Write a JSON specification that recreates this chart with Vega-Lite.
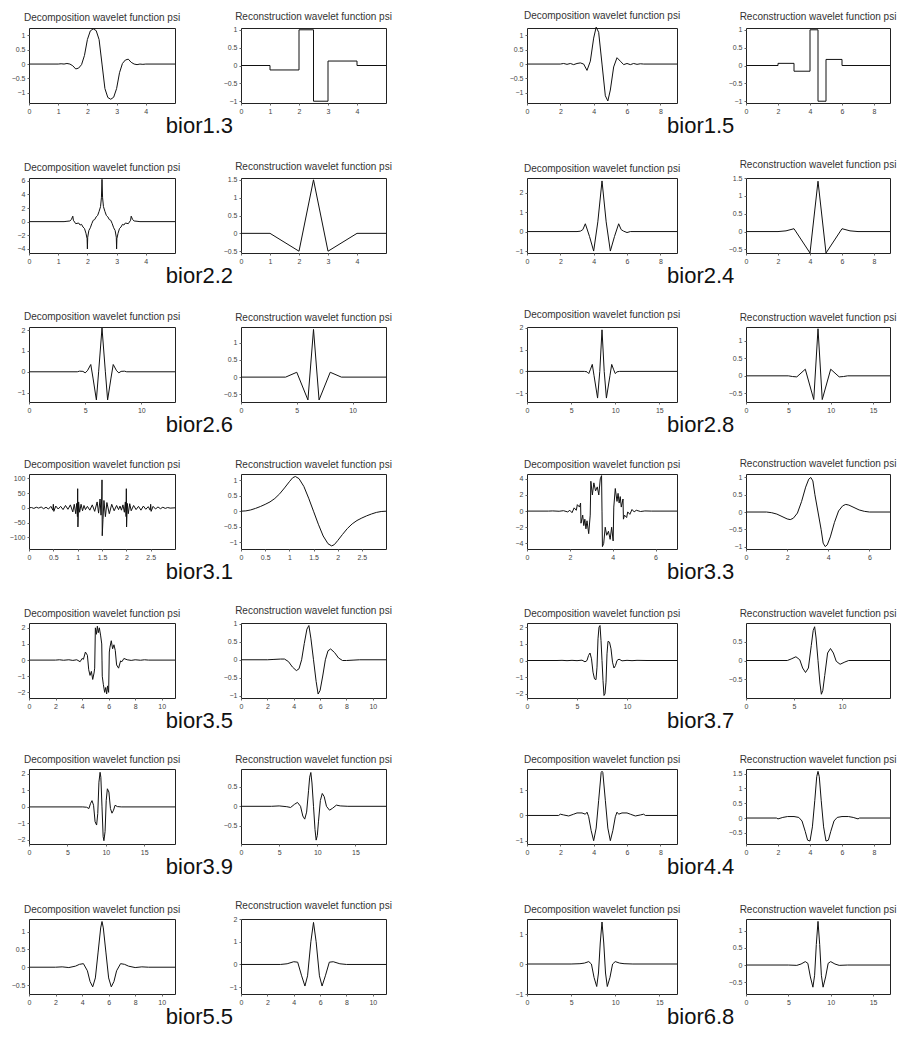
{
"$schema": "https://vega.github.io/schema/vega-lite/v6.json",
"background": "white",
"padding": {"left": 6, "top": 10, "right": 6, "bottom": 4},
"config": {
 "view": {"stroke": "#222", "strokeWidth": 1},
 "axis": {"domain": false, "grid": false, "ticks": true, "tickSize": 2, "tickColor": "#666", "labelFontSize": 7, "labelColor": "#444", "labelFont": "Liberation Sans", "labelPadding": 2, "labelOverlap": false, "labelFlush": false, "labelBound": false},
 "axisY": {"minExtent": 22, "maxExtent": 22},
 "axisX": {"minExtent": 12, "maxExtent": 12},
 "title": {"fontSize": 10, "font": "Liberation Sans", "fontWeight": "normal", "color": "#333", "offset": 4},
 "line": {"color": "#111", "strokeWidth": 1, "clip": true}
},
"datasets": {
 "b13d": [{"x":0,"y":0},{"x":1,"y":0},{"x":1.1,"y":0.01},{"x":1.2,"y":0},{"x":1.3,"y":0.02},{"x":1.4,"y":0},{"x":1.5,"y":-0.06},{"x":1.6,"y":-0.17},{"x":1.7,"y":-0.14},{"x":1.8,"y":-0.02},{"x":1.9,"y":0.3},{"x":2.0,"y":0.85},{"x":2.1,"y":1.15},{"x":2.2,"y":1.22},{"x":2.3,"y":1.16},{"x":2.4,"y":0.85},{"x":2.5,"y":0},{"x":2.6,"y":-0.85},{"x":2.7,"y":-1.16},{"x":2.8,"y":-1.22},{"x":2.9,"y":-1.15},{"x":3.0,"y":-0.85},{"x":3.1,"y":-0.3},{"x":3.2,"y":0.02},{"x":3.3,"y":0.14},{"x":3.4,"y":0.17},{"x":3.5,"y":0.06},{"x":3.6,"y":0},{"x":3.7,"y":-0.02},{"x":3.8,"y":0},{"x":3.9,"y":-0.01},{"x":4.0,"y":0},{"x":5,"y":0}],
 "b13r": [{"x":0,"y":0},{"x":1,"y":-0.125},{"x":2,"y":1},{"x":2.5,"y":-1},{"x":3,"y":0.125},{"x":4,"y":0},{"x":5,"y":0}],
 "b15d": [{"x":0,"y":0},{"x":2,"y":0},{"x":2.2,"y":0.02},{"x":2.4,"y":-0.01},{"x":2.6,"y":0.02},{"x":2.8,"y":-0.02},{"x":3.0,"y":0.02},{"x":3.2,"y":0.04},{"x":3.4,"y":0},{"x":3.6,"y":-0.22},{"x":3.8,"y":0.1},{"x":4.0,"y":0.9},{"x":4.15,"y":1.28},{"x":4.3,"y":1.1},{"x":4.5,"y":0},{"x":4.7,"y":-1.1},{"x":4.85,"y":-1.28},{"x":5.0,"y":-0.9},{"x":5.2,"y":-0.1},{"x":5.4,"y":0.22},{"x":5.6,"y":0.1},{"x":5.8,"y":-0.02},{"x":6.0,"y":0.02},{"x":6.2,"y":-0.02},{"x":6.4,"y":0.02},{"x":6.6,"y":-0.01},{"x":6.8,"y":0.01},{"x":7,"y":0},{"x":9,"y":0}],
 "b15r": [{"x":0,"y":0},{"x":2,"y":0.06},{"x":3,"y":-0.16},{"x":4,"y":1},{"x":4.5,"y":-1},{"x":5,"y":0.17},{"x":6,"y":0},{"x":9,"y":0}],
 "b22d": [{"x":0,"y":0},{"x":1.2,"y":0},{"x":1.3,"y":0.05},{"x":1.4,"y":0.1},{"x":1.45,"y":0.3},{"x":1.5,"y":0.8},{"x":1.52,"y":0.2},{"x":1.6,"y":-0.3},{"x":1.7,"y":-0.2},{"x":1.75,"y":-0.5},{"x":1.8,"y":-0.4},{"x":1.85,"y":-0.8},{"x":1.9,"y":-1.0},{"x":1.95,"y":-1.7},{"x":1.99,"y":-2.5},{"x":2.0,"y":-4.0},{"x":2.01,"y":-2.3},{"x":2.05,"y":-1.3},{"x":2.1,"y":-0.9},{"x":2.15,"y":-0.3},{"x":2.2,"y":0.2},{"x":2.25,"y":0.3},{"x":2.3,"y":0.7},{"x":2.35,"y":0.9},{"x":2.4,"y":1.5},{"x":2.45,"y":2.2},{"x":2.48,"y":3.5},{"x":2.5,"y":6.2},{"x":2.52,"y":3.5},{"x":2.55,"y":2.2},{"x":2.6,"y":1.5},{"x":2.65,"y":0.9},{"x":2.7,"y":0.7},{"x":2.75,"y":0.3},{"x":2.8,"y":0.2},{"x":2.85,"y":-0.3},{"x":2.9,"y":-0.9},{"x":2.95,"y":-1.3},{"x":2.99,"y":-2.3},{"x":3.0,"y":-4.0},{"x":3.01,"y":-2.5},{"x":3.05,"y":-1.7},{"x":3.1,"y":-1.0},{"x":3.15,"y":-0.8},{"x":3.2,"y":-0.4},{"x":3.25,"y":-0.5},{"x":3.3,"y":-0.2},{"x":3.4,"y":-0.3},{"x":3.48,"y":0.2},{"x":3.5,"y":0.8},{"x":3.55,"y":0.3},{"x":3.6,"y":0.1},{"x":3.7,"y":0.05},{"x":3.8,"y":0},{"x":5,"y":0}],
 "b22r": [{"x":0,"y":0},{"x":1,"y":0},{"x":2,"y":-0.5},{"x":2.5,"y":1.5},{"x":3,"y":-0.5},{"x":4,"y":0},{"x":5,"y":0}],
 "b24d": [{"x":0,"y":0},{"x":3,"y":0},{"x":3.2,"y":0.02},{"x":3.35,"y":0.1},{"x":3.5,"y":0.4},{"x":3.75,"y":-0.25},{"x":4.0,"y":-1.0},{"x":4.25,"y":0.5},{"x":4.5,"y":2.6},{"x":4.75,"y":0.5},{"x":5.0,"y":-1.0},{"x":5.25,"y":-0.25},{"x":5.5,"y":0.4},{"x":5.65,"y":0.1},{"x":5.8,"y":0.02},{"x":6.0,"y":-0.05},{"x":6.2,"y":0},{"x":9,"y":0}],
 "b24r": [{"x":0,"y":0},{"x":2,"y":0},{"x":2.5,"y":0.02},{"x":3,"y":0.08},{"x":4,"y":-0.6},{"x":4.5,"y":1.41},{"x":5,"y":-0.6},{"x":6,"y":0.08},{"x":6.5,"y":0.02},{"x":7,"y":0},{"x":9,"y":0}],
 "b26d": [{"x":0,"y":0},{"x":4.3,"y":0},{"x":4.5,"y":0.03},{"x":4.8,"y":0.02},{"x":5.0,"y":-0.05},{"x":5.2,"y":0.05},{"x":5.5,"y":0.35},{"x":5.7,"y":-0.3},{"x":6.0,"y":-1.35},{"x":6.2,"y":0},{"x":6.5,"y":2.1},{"x":6.8,"y":0},{"x":7.0,"y":-1.35},{"x":7.3,"y":-0.3},{"x":7.5,"y":0.35},{"x":7.8,"y":0.05},{"x":8.0,"y":-0.05},{"x":8.2,"y":0.02},{"x":8.5,"y":0.03},{"x":8.7,"y":0},{"x":13,"y":0}],
 "b26r": [{"x":0,"y":0},{"x":4,"y":0},{"x":5,"y":0.14},{"x":6,"y":-0.66},{"x":6.5,"y":1.38},{"x":7,"y":-0.66},{"x":8,"y":0.14},{"x":9,"y":0},{"x":13,"y":0}],
 "b28d": [{"x":0,"y":0},{"x":6.5,"y":0},{"x":6.8,"y":-0.02},{"x":7.0,"y":-0.1},{"x":7.2,"y":0.1},{"x":7.4,"y":0.32},{"x":7.6,"y":-0.2},{"x":8.0,"y":-1.22},{"x":8.25,"y":0},{"x":8.5,"y":1.9},{"x":8.75,"y":0},{"x":9.0,"y":-1.22},{"x":9.4,"y":-0.2},{"x":9.6,"y":0.32},{"x":9.8,"y":0.1},{"x":10.0,"y":-0.1},{"x":10.2,"y":-0.02},{"x":10.5,"y":0},{"x":17,"y":0}],
 "b28r": [{"x":0,"y":0},{"x":5,"y":0},{"x":5.5,"y":-0.02},{"x":6,"y":-0.03},{"x":7,"y":0.19},{"x":8,"y":-0.68},{"x":8.5,"y":1.35},{"x":9,"y":-0.68},{"x":10,"y":0.19},{"x":11,"y":-0.03},{"x":11.5,"y":-0.02},{"x":12,"y":0},{"x":17,"y":0}],
 "b31d": [{"x":0,"y":0},{"x":0.05,"y":1},{"x":0.1,"y":-2},{"x":0.15,"y":2},{"x":0.2,"y":-1},{"x":0.25,"y":3},{"x":0.3,"y":-3},{"x":0.35,"y":2},{"x":0.4,"y":-4},{"x":0.45,"y":5},{"x":0.49,"y":-8},{"x":0.5,"y":12},{"x":0.51,"y":-12},{"x":0.55,"y":6},{"x":0.6,"y":-4},{"x":0.65,"y":5},{"x":0.7,"y":-6},{"x":0.75,"y":8},{"x":0.8,"y":-5},{"x":0.85,"y":10},{"x":0.9,"y":-14},{"x":0.93,"y":12},{"x":0.96,"y":-20},{"x":0.98,"y":15},{"x":0.995,"y":-30},{"x":1.0,"y":65},{"x":1.005,"y":-65},{"x":1.02,"y":20},{"x":1.04,"y":-15},{"x":1.07,"y":12},{"x":1.1,"y":-10},{"x":1.13,"y":8},{"x":1.16,"y":-6},{"x":1.2,"y":5},{"x":1.25,"y":-8},{"x":1.3,"y":10},{"x":1.35,"y":-12},{"x":1.4,"y":20},{"x":1.43,"y":-18},{"x":1.46,"y":30},{"x":1.48,"y":-25},{"x":1.495,"y":40},{"x":1.5,"y":95},{"x":1.505,"y":-95},{"x":1.52,"y":-40},{"x":1.54,"y":25},{"x":1.57,"y":-30},{"x":1.6,"y":18},{"x":1.65,"y":-20},{"x":1.7,"y":12},{"x":1.75,"y":-10},{"x":1.8,"y":8},{"x":1.84,"y":-6},{"x":1.87,"y":6},{"x":1.9,"y":-8},{"x":1.93,"y":10},{"x":1.96,"y":-15},{"x":1.98,"y":20},{"x":1.995,"y":-30},{"x":2.0,"y":65},{"x":2.005,"y":-65},{"x":2.02,"y":15},{"x":2.04,"y":-20},{"x":2.07,"y":14},{"x":2.1,"y":-10},{"x":2.15,"y":8},{"x":2.2,"y":-6},{"x":2.25,"y":5},{"x":2.3,"y":-8},{"x":2.35,"y":6},{"x":2.4,"y":-5},{"x":2.45,"y":4},{"x":2.49,"y":-8},{"x":2.5,"y":12},{"x":2.51,"y":-12},{"x":2.55,"y":5},{"x":2.6,"y":-4},{"x":2.65,"y":3},{"x":2.7,"y":-3},{"x":2.75,"y":2},{"x":2.8,"y":-2},{"x":2.85,"y":1},{"x":2.9,"y":-1},{"x":3,"y":0}],
 "b31r": [{"x":0,"y":0},{"x":0.1,"y":0.01},{"x":0.2,"y":0.04},{"x":0.3,"y":0.09},{"x":0.4,"y":0.15},{"x":0.5,"y":0.22},{"x":0.6,"y":0.3},{"x":0.7,"y":0.41},{"x":0.8,"y":0.56},{"x":0.9,"y":0.75},{"x":1.0,"y":0.95},{"x":1.07,"y":1.08},{"x":1.125,"y":1.12},{"x":1.2,"y":1.05},{"x":1.3,"y":0.8},{"x":1.4,"y":0.42},{"x":1.5,"y":0},{"x":1.6,"y":-0.42},{"x":1.7,"y":-0.8},{"x":1.8,"y":-1.05},{"x":1.875,"y":-1.12},{"x":1.93,"y":-1.08},{"x":2.0,"y":-0.95},{"x":2.1,"y":-0.75},{"x":2.2,"y":-0.56},{"x":2.3,"y":-0.41},{"x":2.4,"y":-0.3},{"x":2.5,"y":-0.22},{"x":2.6,"y":-0.15},{"x":2.7,"y":-0.09},{"x":2.8,"y":-0.04},{"x":2.9,"y":-0.01},{"x":3,"y":0}],
 "b33d": [{"x":0,"y":0},{"x":1,"y":0},{"x":1.2,"y":0.02},{"x":1.5,"y":-0.02},{"x":1.7,"y":0.05},{"x":1.9,"y":-0.1},{"x":2.0,"y":0.1},{"x":2.1,"y":-0.2},{"x":2.2,"y":0.4},{"x":2.3,"y":0.1},{"x":2.35,"y":0.8},{"x":2.45,"y":0.5},{"x":2.5,"y":1.0},{"x":2.52,"y":-1.5},{"x":2.6,"y":-0.5},{"x":2.65,"y":-1.8},{"x":2.7,"y":-1.0},{"x":2.75,"y":-2.2},{"x":2.8,"y":-1.2},{"x":2.88,"y":-2.8},{"x":2.95,"y":-0.5},{"x":2.98,"y":3.7},{"x":3.05,"y":2.0},{"x":3.12,"y":3.5},{"x":3.2,"y":2.5},{"x":3.28,"y":3.0},{"x":3.35,"y":2.0},{"x":3.42,"y":4.0},{"x":3.48,"y":4.4},{"x":3.5,"y":0},{"x":3.52,"y":-4.4},{"x":3.58,"y":-4.0},{"x":3.65,"y":-2.0},{"x":3.72,"y":-3.0},{"x":3.8,"y":-2.5},{"x":3.88,"y":-3.5},{"x":3.95,"y":-2.0},{"x":4.02,"y":-3.7},{"x":4.05,"y":0.5},{"x":4.12,"y":2.8},{"x":4.2,"y":1.2},{"x":4.25,"y":2.2},{"x":4.3,"y":1.0},{"x":4.35,"y":1.8},{"x":4.4,"y":0.5},{"x":4.48,"y":1.5},{"x":4.5,"y":-1.0},{"x":4.55,"y":-0.5},{"x":4.65,"y":-0.8},{"x":4.7,"y":-0.1},{"x":4.8,"y":-0.4},{"x":4.9,"y":0.2},{"x":5.0,"y":-0.1},{"x":5.1,"y":0.1},{"x":5.3,"y":-0.05},{"x":5.5,"y":0.02},{"x":5.8,"y":0},{"x":7,"y":0}],
 "b33r": [{"x":0,"y":0},{"x":1,"y":0},{"x":1.25,"y":-0.02},{"x":1.5,"y":-0.06},{"x":1.75,"y":-0.13},{"x":2.0,"y":-0.2},{"x":2.15,"y":-0.22},{"x":2.3,"y":-0.18},{"x":2.5,"y":-0.03},{"x":2.7,"y":0.3},{"x":2.9,"y":0.72},{"x":3.05,"y":0.95},{"x":3.15,"y":1.0},{"x":3.25,"y":0.9},{"x":3.35,"y":0.5},{"x":3.5,"y":0},{"x":3.65,"y":-0.5},{"x":3.75,"y":-0.9},{"x":3.85,"y":-1.0},{"x":3.95,"y":-0.95},{"x":4.1,"y":-0.72},{"x":4.3,"y":-0.3},{"x":4.5,"y":0.03},{"x":4.7,"y":0.18},{"x":4.85,"y":0.22},{"x":5.0,"y":0.2},{"x":5.25,"y":0.13},{"x":5.5,"y":0.06},{"x":5.75,"y":0.02},{"x":6,"y":0},{"x":7,"y":0}],
 "b35d": [{"x":0,"y":0},{"x":2,"y":0},{"x":2.3,"y":0.02},{"x":2.6,"y":-0.01},{"x":3,"y":0.02},{"x":3.3,"y":-0.02},{"x":3.6,"y":0.02},{"x":3.85,"y":-0.1},{"x":4.0,"y":0.1},{"x":4.1,"y":0.05},{"x":4.25,"y":0.5},{"x":4.4,"y":0.3},{"x":4.5,"y":-0.6},{"x":4.6,"y":-0.95},{"x":4.7,"y":-0.7},{"x":4.8,"y":-1.2},{"x":4.9,"y":-0.8},{"x":4.95,"y":-0.5},{"x":5.0,"y":2.0},{"x":5.08,"y":1.6},{"x":5.15,"y":2.1},{"x":5.22,"y":1.7},{"x":5.3,"y":2.0},{"x":5.4,"y":1.5},{"x":5.48,"y":1.0},{"x":5.5,"y":0},{"x":5.52,"y":-1.0},{"x":5.6,"y":-1.5},{"x":5.7,"y":-2.0},{"x":5.78,"y":-1.7},{"x":5.85,"y":-2.1},{"x":5.92,"y":-1.6},{"x":6.0,"y":-2.0},{"x":6.05,"y":0.5},{"x":6.1,"y":0.8},{"x":6.2,"y":1.2},{"x":6.3,"y":0.7},{"x":6.4,"y":0.95},{"x":6.5,"y":0.6},{"x":6.6,"y":-0.3},{"x":6.75,"y":-0.5},{"x":6.9,"y":-0.05},{"x":7.0,"y":-0.1},{"x":7.15,"y":0.1},{"x":7.4,"y":0.02},{"x":7.7,"y":-0.02},{"x":8,"y":0.02},{"x":8.4,"y":-0.01},{"x":8.7,"y":0.02},{"x":9,"y":0},{"x":11,"y":0}],
 "b35r": [{"x":0,"y":0},{"x":2,"y":0},{"x":2.5,"y":0.01},{"x":3,"y":0.02},{"x":3.3,"y":0.02},{"x":3.6,"y":-0.05},{"x":3.9,"y":-0.2},{"x":4.2,"y":-0.3},{"x":4.4,"y":-0.25},{"x":4.6,"y":0},{"x":4.8,"y":0.45},{"x":5.0,"y":0.85},{"x":5.15,"y":0.95},{"x":5.3,"y":0.6},{"x":5.5,"y":0},{"x":5.7,"y":-0.6},{"x":5.85,"y":-0.95},{"x":6.0,"y":-0.85},{"x":6.2,"y":-0.45},{"x":6.4,"y":0},{"x":6.6,"y":0.25},{"x":6.8,"y":0.3},{"x":7.1,"y":0.2},{"x":7.4,"y":0.05},{"x":7.7,"y":-0.02},{"x":8,"y":-0.02},{"x":8.5,"y":-0.01},{"x":9,"y":0},{"x":11,"y":0}],
 "b37d": [{"x":0,"y":0},{"x":3,"y":0},{"x":3.5,"y":0.01},{"x":4,"y":-0.01},{"x":4.5,"y":0.01},{"x":5,"y":-0.01},{"x":5.5,"y":0.02},{"x":5.8,"y":-0.08},{"x":6.0,"y":0},{"x":6.15,"y":0.3},{"x":6.3,"y":0.45},{"x":6.45,"y":0.1},{"x":6.6,"y":-0.7},{"x":6.75,"y":-1.1},{"x":6.9,"y":-1.15},{"x":7.0,"y":-0.4},{"x":7.1,"y":1.3},{"x":7.2,"y":2.0},{"x":7.3,"y":2.1},{"x":7.4,"y":1.2},{"x":7.5,"y":0},{"x":7.6,"y":-1.2},{"x":7.7,"y":-2.1},{"x":7.8,"y":-2.0},{"x":7.9,"y":-1.3},{"x":8.0,"y":0.4},{"x":8.1,"y":1.15},{"x":8.25,"y":1.1},{"x":8.4,"y":0.7},{"x":8.55,"y":-0.1},{"x":8.7,"y":-0.45},{"x":8.85,"y":-0.3},{"x":9.0,"y":0},{"x":9.2,"y":0.08},{"x":9.5,"y":-0.02},{"x":10,"y":0.01},{"x":10.5,"y":-0.01},{"x":11,"y":0.01},{"x":12,"y":0},{"x":15,"y":0}],
 "b37r": [{"x":0,"y":0},{"x":4.3,"y":0},{"x":4.7,"y":0.04},{"x":5.2,"y":0.1},{"x":5.6,"y":0.02},{"x":5.9,"y":-0.2},{"x":6.2,"y":-0.32},{"x":6.5,"y":-0.2},{"x":6.8,"y":0.4},{"x":7.0,"y":0.8},{"x":7.15,"y":0.9},{"x":7.3,"y":0.6},{"x":7.5,"y":0},{"x":7.7,"y":-0.6},{"x":7.85,"y":-0.9},{"x":8.0,"y":-0.8},{"x":8.2,"y":-0.4},{"x":8.5,"y":0.2},{"x":8.8,"y":0.32},{"x":9.1,"y":0.2},{"x":9.4,"y":-0.02},{"x":9.8,"y":-0.1},{"x":10.3,"y":-0.04},{"x":10.7,"y":0},{"x":15,"y":0}],
 "b39d": [{"x":0,"y":0},{"x":7,"y":0},{"x":7.5,"y":-0.02},{"x":7.8,"y":-0.1},{"x":8.0,"y":0.2},{"x":8.2,"y":0.38},{"x":8.4,"y":0.1},{"x":8.6,"y":-0.9},{"x":8.8,"y":-1.1},{"x":8.95,"y":-0.4},{"x":9.1,"y":1.5},{"x":9.25,"y":2.1},{"x":9.35,"y":1.8},{"x":9.5,"y":0},{"x":9.65,"y":-1.8},{"x":9.75,"y":-2.05},{"x":9.9,"y":-1.5},{"x":10.05,"y":0.4},{"x":10.2,"y":1.1},{"x":10.4,"y":0.9},{"x":10.6,"y":-0.1},{"x":10.8,"y":-0.38},{"x":11.0,"y":-0.2},{"x":11.2,"y":0.1},{"x":11.5,"y":0.02},{"x":12,"y":0},{"x":19,"y":0}],
 "b39r": [{"x":0,"y":0},{"x":4,"y":0},{"x":5,"y":0.01},{"x":6,"y":-0.01},{"x":6.5,"y":-0.03},{"x":7.0,"y":0.05},{"x":7.4,"y":0.1},{"x":7.8,"y":0},{"x":8.1,"y":-0.25},{"x":8.35,"y":-0.33},{"x":8.6,"y":-0.15},{"x":8.85,"y":0.4},{"x":9.0,"y":0.75},{"x":9.15,"y":0.87},{"x":9.3,"y":0.6},{"x":9.5,"y":0},{"x":9.7,"y":-0.6},{"x":9.85,"y":-0.87},{"x":10.0,"y":-0.75},{"x":10.15,"y":-0.4},{"x":10.4,"y":0.15},{"x":10.65,"y":0.33},{"x":10.9,"y":0.25},{"x":11.2,"y":0},{"x":11.6,"y":-0.1},{"x":12.0,"y":-0.05},{"x":12.5,"y":0.03},{"x":13,"y":0.01},{"x":14,"y":0},{"x":19,"y":0}],
 "b44d": [{"x":0,"y":0},{"x":1.9,"y":0},{"x":2.0,"y":0.05},{"x":2.2,"y":0.02},{"x":2.5,"y":-0.02},{"x":2.8,"y":0.05},{"x":3.0,"y":0.1},{"x":3.3,"y":0.1},{"x":3.5,"y":0.05},{"x":3.6,"y":0.13},{"x":3.7,"y":-0.05},{"x":3.85,"y":-0.6},{"x":4.0,"y":-1.0},{"x":4.15,"y":-0.5},{"x":4.3,"y":0.6},{"x":4.45,"y":1.7},{"x":4.5,"y":1.75},{"x":4.55,"y":1.7},{"x":4.7,"y":0.6},{"x":4.85,"y":-0.5},{"x":5.0,"y":-1.0},{"x":5.15,"y":-0.6},{"x":5.3,"y":-0.05},{"x":5.4,"y":0.13},{"x":5.5,"y":0.05},{"x":5.7,"y":0.1},{"x":6.0,"y":0.1},{"x":6.2,"y":0.05},{"x":6.5,"y":-0.02},{"x":6.8,"y":0.02},{"x":7.0,"y":0.05},{"x":7.1,"y":0},{"x":9,"y":0}],
 "b44r": [{"x":0,"y":0},{"x":1.9,"y":0},{"x":2.0,"y":-0.03},{"x":2.3,"y":0.02},{"x":2.6,"y":0.05},{"x":3.0,"y":0.05},{"x":3.3,"y":0.02},{"x":3.5,"y":-0.1},{"x":3.7,"y":-0.45},{"x":3.85,"y":-0.75},{"x":4.0,"y":-0.78},{"x":4.15,"y":-0.3},{"x":4.3,"y":0.6},{"x":4.42,"y":1.4},{"x":4.5,"y":1.58},{"x":4.58,"y":1.4},{"x":4.7,"y":0.6},{"x":4.85,"y":-0.3},{"x":5.0,"y":-0.78},{"x":5.15,"y":-0.75},{"x":5.3,"y":-0.45},{"x":5.5,"y":-0.1},{"x":5.7,"y":0.02},{"x":6.0,"y":0.05},{"x":6.4,"y":0.05},{"x":6.7,"y":0.02},{"x":7.0,"y":-0.03},{"x":7.1,"y":0},{"x":9,"y":0}],
 "b55d": [{"x":0,"y":0},{"x":2,"y":0},{"x":2.5,"y":0.01},{"x":3,"y":-0.01},{"x":3.5,"y":0.03},{"x":3.8,"y":0.08},{"x":4.1,"y":0.1},{"x":4.4,"y":-0.1},{"x":4.6,"y":-0.4},{"x":4.8,"y":-0.55},{"x":5.0,"y":-0.3},{"x":5.2,"y":0.4},{"x":5.4,"y":1.1},{"x":5.5,"y":1.28},{"x":5.6,"y":1.1},{"x":5.8,"y":0.4},{"x":6.0,"y":-0.3},{"x":6.2,"y":-0.55},{"x":6.4,"y":-0.4},{"x":6.6,"y":-0.1},{"x":6.9,"y":0.1},{"x":7.2,"y":0.08},{"x":7.5,"y":0.03},{"x":8,"y":-0.01},{"x":8.5,"y":0.01},{"x":9,"y":0},{"x":11,"y":0}],
 "b55r": [{"x":0,"y":0},{"x":3,"y":0},{"x":3.5,"y":0.03},{"x":4.0,"y":0.12},{"x":4.3,"y":0.1},{"x":4.6,"y":-0.5},{"x":4.85,"y":-0.95},{"x":5.05,"y":-0.5},{"x":5.3,"y":1.0},{"x":5.5,"y":1.85},{"x":5.7,"y":1.0},{"x":5.95,"y":-0.5},{"x":6.15,"y":-0.95},{"x":6.4,"y":-0.5},{"x":6.7,"y":0.1},{"x":7.0,"y":0.12},{"x":7.5,"y":0.03},{"x":8,"y":0},{"x":11,"y":0}],
 "b68d": [{"x":0,"y":0},{"x":5,"y":0},{"x":6,"y":0.01},{"x":6.5,"y":0.03},{"x":7.0,"y":0.08},{"x":7.3,"y":0},{"x":7.6,"y":-0.45},{"x":7.9,"y":-0.75},{"x":8.1,"y":-0.3},{"x":8.3,"y":0.7},{"x":8.5,"y":1.4},{"x":8.7,"y":0.7},{"x":8.9,"y":-0.3},{"x":9.1,"y":-0.75},{"x":9.4,"y":-0.45},{"x":9.7,"y":0},{"x":10.0,"y":0.08},{"x":10.5,"y":0.03},{"x":11,"y":0.01},{"x":12,"y":0},{"x":17,"y":0}],
 "b68r": [{"x":0,"y":0},{"x":5,"y":0},{"x":6,"y":-0.01},{"x":6.5,"y":0.03},{"x":7,"y":0.1},{"x":7.3,"y":0.05},{"x":7.6,"y":-0.35},{"x":7.9,"y":-0.65},{"x":8.1,"y":-0.3},{"x":8.3,"y":0.6},{"x":8.5,"y":1.28},{"x":8.7,"y":0.6},{"x":8.9,"y":-0.3},{"x":9.1,"y":-0.65},{"x":9.4,"y":-0.35},{"x":9.7,"y":0.05},{"x":10,"y":0.1},{"x":10.5,"y":0.03},{"x":11,"y":-0.01},{"x":12,"y":0},{"x":17,"y":0}]
},
"spacing": 22,
"vconcat": [
 {"spacing": 111, "hconcat": [
  {"title": {"text": "bior1.3", "orient": "bottom", "anchor": "middle", "fontSize": 22, "color": "#111", "offset": 0}, "spacing": 37, "hconcat": [
   {"title": "Decomposition wavelet function psi", "width": 146, "height": 75, "data": {"name": "b13d"}, "mark": "line", "encoding": {"x": {"field": "x", "type": "quantitative", "title": null, "scale": {"domain": [0,5], "nice": false, "zero": false}, "axis": {"values": [0,1,2,3,4], "format": "~f"}}, "y": {"field": "y", "type": "quantitative", "title": null, "scale": {"domain": [-1.35,1.25], "nice": false, "zero": false}, "axis": {"values": [-1,-0.5,0,0.5,1], "format": "~f"}}}},
   {"title": "Reconstruction wavelet function psi", "width": 145, "height": 75, "data": {"name": "b13r"}, "mark": {"type": "line", "interpolate": "step-after"}, "encoding": {"x": {"field": "x", "type": "quantitative", "title": null, "scale": {"domain": [0,5], "nice": false, "zero": false}, "axis": {"values": [0,1,2,3,4], "format": "~f"}}, "y": {"field": "y", "type": "quantitative", "title": null, "scale": {"domain": [-1.05,1.05], "nice": false, "zero": false}, "axis": {"values": [-1,-0.5,0,0.5,1], "format": "~f"}}}}
  ]},
  {"title": {"text": "bior1.5", "orient": "bottom", "anchor": "middle", "fontSize": 22, "color": "#111", "offset": 0}, "spacing": 42, "hconcat": [
   {"title": "Decomposition wavelet function psi", "width": 150, "height": 75, "data": {"name": "b15d"}, "mark": "line", "encoding": {"x": {"field": "x", "type": "quantitative", "title": null, "scale": {"domain": [0,9], "nice": false, "zero": false}, "axis": {"values": [0,2,4,6,8], "format": "~f"}}, "y": {"field": "y", "type": "quantitative", "title": null, "scale": {"domain": [-1.35,1.25], "nice": false, "zero": false}, "axis": {"values": [-1,-0.5,0,0.5,1], "format": "~f"}}}},
   {"title": "Reconstruction wavelet function psi", "width": 144, "height": 75, "data": {"name": "b15r"}, "mark": {"type": "line", "interpolate": "step-after"}, "encoding": {"x": {"field": "x", "type": "quantitative", "title": null, "scale": {"domain": [0,9], "nice": false, "zero": false}, "axis": {"values": [0,2,4,6,8], "format": "~f"}}, "y": {"field": "y", "type": "quantitative", "title": null, "scale": {"domain": [-1.05,1.05], "nice": false, "zero": false}, "axis": {"values": [-1,-0.5,0,0.5,1], "format": "~f"}}}}
  ]}
 ]},
 {"spacing": 111, "hconcat": [
  {"title": {"text": "bior2.2", "orient": "bottom", "anchor": "middle", "fontSize": 22, "color": "#111", "offset": 0}, "spacing": 37, "hconcat": [
   {"title": "Decomposition wavelet function psi", "width": 146, "height": 75, "data": {"name": "b22d"}, "mark": "line", "encoding": {"x": {"field": "x", "type": "quantitative", "title": null, "scale": {"domain": [0,5], "nice": false, "zero": false}, "axis": {"values": [0,1,2,3,4], "format": "~f"}}, "y": {"field": "y", "type": "quantitative", "title": null, "scale": {"domain": [-4.6,6.4], "nice": false, "zero": false}, "axis": {"values": [-4,-2,0,2,4,6], "format": "~f"}}}},
   {"title": "Reconstruction wavelet function psi", "width": 145, "height": 75, "data": {"name": "b22r"}, "mark": "line", "encoding": {"x": {"field": "x", "type": "quantitative", "title": null, "scale": {"domain": [0,5], "nice": false, "zero": false}, "axis": {"values": [0,1,2,3,4], "format": "~f"}}, "y": {"field": "y", "type": "quantitative", "title": null, "scale": {"domain": [-0.55,1.55], "nice": false, "zero": false}, "axis": {"values": [-0.5,0,0.5,1,1.5], "format": "~f"}}}}
  ]},
  {"title": {"text": "bior2.4", "orient": "bottom", "anchor": "middle", "fontSize": 22, "color": "#111", "offset": 0}, "spacing": 42, "hconcat": [
   {"title": "Decomposition wavelet function psi", "width": 150, "height": 75, "data": {"name": "b24d"}, "mark": "line", "encoding": {"x": {"field": "x", "type": "quantitative", "title": null, "scale": {"domain": [0,9], "nice": false, "zero": false}, "axis": {"values": [0,2,4,6,8], "format": "~f"}}, "y": {"field": "y", "type": "quantitative", "title": null, "scale": {"domain": [-1.1,2.75], "nice": false, "zero": false}, "axis": {"values": [-1,0,1,2], "format": "~f"}}}},
   {"title": "Reconstruction wavelet function psi", "width": 144, "height": 75, "data": {"name": "b24r"}, "mark": "line", "encoding": {"x": {"field": "x", "type": "quantitative", "title": null, "scale": {"domain": [0,9], "nice": false, "zero": false}, "axis": {"values": [0,2,4,6,8], "format": "~f"}}, "y": {"field": "y", "type": "quantitative", "title": null, "scale": {"domain": [-0.6,1.5], "nice": false, "zero": false}, "axis": {"values": [-0.5,0,0.5,1,1.5], "format": "~f"}}}}
  ]}
 ]},
 {"spacing": 111, "hconcat": [
  {"title": {"text": "bior2.6", "orient": "bottom", "anchor": "middle", "fontSize": 22, "color": "#111", "offset": 0}, "spacing": 37, "hconcat": [
   {"title": "Decomposition wavelet function psi", "width": 146, "height": 75, "data": {"name": "b26d"}, "mark": "line", "encoding": {"x": {"field": "x", "type": "quantitative", "title": null, "scale": {"domain": [0,13], "nice": false, "zero": false}, "axis": {"values": [0,5,10], "format": "~f"}}, "y": {"field": "y", "type": "quantitative", "title": null, "scale": {"domain": [-1.45,2.15], "nice": false, "zero": false}, "axis": {"values": [-1,0,1,2], "format": "~f"}}}},
   {"title": "Reconstruction wavelet function psi", "width": 145, "height": 75, "data": {"name": "b26r"}, "mark": "line", "encoding": {"x": {"field": "x", "type": "quantitative", "title": null, "scale": {"domain": [0,13], "nice": false, "zero": false}, "axis": {"values": [0,5,10], "format": "~f"}}, "y": {"field": "y", "type": "quantitative", "title": null, "scale": {"domain": [-0.72,1.45], "nice": false, "zero": false}, "axis": {"values": [-0.5,0,0.5,1], "format": "~f"}}}}
  ]},
  {"title": {"text": "bior2.8", "orient": "bottom", "anchor": "middle", "fontSize": 22, "color": "#111", "offset": 0}, "spacing": 42, "hconcat": [
   {"title": "Decomposition wavelet function psi", "width": 150, "height": 75, "data": {"name": "b28d"}, "mark": "line", "encoding": {"x": {"field": "x", "type": "quantitative", "title": null, "scale": {"domain": [0,17], "nice": false, "zero": false}, "axis": {"values": [0,5,10,15], "format": "~f"}}, "y": {"field": "y", "type": "quantitative", "title": null, "scale": {"domain": [-1.4,2.03], "nice": false, "zero": false}, "axis": {"values": [-1,0,1,2], "format": "~f"}}}},
   {"title": "Reconstruction wavelet function psi", "width": 144, "height": 75, "data": {"name": "b28r"}, "mark": "line", "encoding": {"x": {"field": "x", "type": "quantitative", "title": null, "scale": {"domain": [0,17], "nice": false, "zero": false}, "axis": {"values": [0,5,10,15], "format": "~f"}}, "y": {"field": "y", "type": "quantitative", "title": null, "scale": {"domain": [-0.75,1.4], "nice": false, "zero": false}, "axis": {"values": [-0.5,0,0.5,1], "format": "~f"}}}}
  ]}
 ]},
 {"spacing": 111, "hconcat": [
  {"title": {"text": "bior3.1", "orient": "bottom", "anchor": "middle", "fontSize": 22, "color": "#111", "offset": 0}, "spacing": 37, "hconcat": [
   {"title": "Decomposition wavelet function psi", "width": 146, "height": 75, "data": {"name": "b31d"}, "mark": "line", "encoding": {"x": {"field": "x", "type": "quantitative", "title": null, "scale": {"domain": [0,3], "nice": false, "zero": false}, "axis": {"values": [0,0.5,1,1.5,2,2.5], "format": "~f"}}, "y": {"field": "y", "type": "quantitative", "title": null, "scale": {"domain": [-140,115], "nice": false, "zero": false}, "axis": {"values": [-100,-50,0,50,100], "format": "~f"}}}},
   {"title": "Reconstruction wavelet function psi", "width": 145, "height": 75, "data": {"name": "b31r"}, "mark": "line", "encoding": {"x": {"field": "x", "type": "quantitative", "title": null, "scale": {"domain": [0,3], "nice": false, "zero": false}, "axis": {"values": [0,0.5,1,1.5,2,2.5], "format": "~f"}}, "y": {"field": "y", "type": "quantitative", "title": null, "scale": {"domain": [-1.22,1.2], "nice": false, "zero": false}, "axis": {"values": [-1,-0.5,0,0.5,1], "format": "~f"}}}}
  ]},
  {"title": {"text": "bior3.3", "orient": "bottom", "anchor": "middle", "fontSize": 22, "color": "#111", "offset": 0}, "spacing": 42, "hconcat": [
   {"title": "Decomposition wavelet function psi", "width": 150, "height": 75, "data": {"name": "b33d"}, "mark": "line", "encoding": {"x": {"field": "x", "type": "quantitative", "title": null, "scale": {"domain": [0,7], "nice": false, "zero": false}, "axis": {"values": [0,2,4,6], "format": "~f"}}, "y": {"field": "y", "type": "quantitative", "title": null, "scale": {"domain": [-4.7,4.6], "nice": false, "zero": false}, "axis": {"values": [-4,-2,0,2,4], "format": "~f"}}}},
   {"title": "Reconstruction wavelet function psi", "width": 144, "height": 75, "data": {"name": "b33r"}, "mark": "line", "encoding": {"x": {"field": "x", "type": "quantitative", "title": null, "scale": {"domain": [0,7], "nice": false, "zero": false}, "axis": {"values": [0,2,4,6], "format": "~f"}}, "y": {"field": "y", "type": "quantitative", "title": null, "scale": {"domain": [-1.07,1.1], "nice": false, "zero": false}, "axis": {"values": [-1,-0.5,0,0.5,1], "format": "~f"}}}}
  ]}
 ]},
 {"spacing": 111, "hconcat": [
  {"title": {"text": "bior3.5", "orient": "bottom", "anchor": "middle", "fontSize": 22, "color": "#111", "offset": 0}, "spacing": 37, "hconcat": [
   {"title": "Decomposition wavelet function psi", "width": 146, "height": 75, "data": {"name": "b35d"}, "mark": "line", "encoding": {"x": {"field": "x", "type": "quantitative", "title": null, "scale": {"domain": [0,11], "nice": false, "zero": false}, "axis": {"values": [0,2,4,6,8,10], "format": "~f"}}, "y": {"field": "y", "type": "quantitative", "title": null, "scale": {"domain": [-2.35,2.3], "nice": false, "zero": false}, "axis": {"values": [-2,-1,0,1,2], "format": "~f"}}}},
   {"title": "Reconstruction wavelet function psi", "width": 145, "height": 75, "data": {"name": "b35r"}, "mark": "line", "encoding": {"x": {"field": "x", "type": "quantitative", "title": null, "scale": {"domain": [0,11], "nice": false, "zero": false}, "axis": {"values": [0,2,4,6,8,10], "format": "~f"}}, "y": {"field": "y", "type": "quantitative", "title": null, "scale": {"domain": [-1.06,1.02], "nice": false, "zero": false}, "axis": {"values": [-1,-0.5,0,0.5,1], "format": "~f"}}}}
  ]},
  {"title": {"text": "bior3.7", "orient": "bottom", "anchor": "middle", "fontSize": 22, "color": "#111", "offset": 0}, "spacing": 42, "hconcat": [
   {"title": "Decomposition wavelet function psi", "width": 150, "height": 75, "data": {"name": "b37d"}, "mark": "line", "encoding": {"x": {"field": "x", "type": "quantitative", "title": null, "scale": {"domain": [0,15], "nice": false, "zero": false}, "axis": {"values": [0,5,10], "format": "~f"}}, "y": {"field": "y", "type": "quantitative", "title": null, "scale": {"domain": [-2.25,2.25], "nice": false, "zero": false}, "axis": {"values": [-2,-1,0,1,2], "format": "~f"}}}},
   {"title": "Reconstruction wavelet function psi", "width": 144, "height": 75, "data": {"name": "b37r"}, "mark": "line", "encoding": {"x": {"field": "x", "type": "quantitative", "title": null, "scale": {"domain": [0,15], "nice": false, "zero": false}, "axis": {"values": [0,5,10], "format": "~f"}}, "y": {"field": "y", "type": "quantitative", "title": null, "scale": {"domain": [-1.0,1.0], "nice": false, "zero": false}, "axis": {"values": [-0.5,0,0.5], "format": "~f"}}}}
  ]}
 ]},
 {"spacing": 111, "hconcat": [
  {"title": {"text": "bior3.9", "orient": "bottom", "anchor": "middle", "fontSize": 22, "color": "#111", "offset": 0}, "spacing": 37, "hconcat": [
   {"title": "Decomposition wavelet function psi", "width": 146, "height": 75, "data": {"name": "b39d"}, "mark": "line", "encoding": {"x": {"field": "x", "type": "quantitative", "title": null, "scale": {"domain": [0,19], "nice": false, "zero": false}, "axis": {"values": [0,5,10,15], "format": "~f"}}, "y": {"field": "y", "type": "quantitative", "title": null, "scale": {"domain": [-2.25,2.3], "nice": false, "zero": false}, "axis": {"values": [-2,-1,0,1,2], "format": "~f"}}}},
   {"title": "Reconstruction wavelet function psi", "width": 145, "height": 75, "data": {"name": "b39r"}, "mark": "line", "encoding": {"x": {"field": "x", "type": "quantitative", "title": null, "scale": {"domain": [0,19], "nice": false, "zero": false}, "axis": {"values": [0,5,10,15], "format": "~f"}}, "y": {"field": "y", "type": "quantitative", "title": null, "scale": {"domain": [-0.97,0.96], "nice": false, "zero": false}, "axis": {"values": [-0.5,0,0.5], "format": "~f"}}}}
  ]},
  {"title": {"text": "bior4.4", "orient": "bottom", "anchor": "middle", "fontSize": 22, "color": "#111", "offset": 0}, "spacing": 42, "hconcat": [
   {"title": "Decomposition wavelet function psi", "width": 150, "height": 75, "data": {"name": "b44d"}, "mark": "line", "encoding": {"x": {"field": "x", "type": "quantitative", "title": null, "scale": {"domain": [0,9], "nice": false, "zero": false}, "axis": {"values": [0,2,4,6,8], "format": "~f"}}, "y": {"field": "y", "type": "quantitative", "title": null, "scale": {"domain": [-1.13,1.84], "nice": false, "zero": false}, "axis": {"values": [-1,0,1], "format": "~f"}}}},
   {"title": "Reconstruction wavelet function psi", "width": 144, "height": 75, "data": {"name": "b44r"}, "mark": "line", "encoding": {"x": {"field": "x", "type": "quantitative", "title": null, "scale": {"domain": [0,9], "nice": false, "zero": false}, "axis": {"values": [0,2,4,6,8], "format": "~f"}}, "y": {"field": "y", "type": "quantitative", "title": null, "scale": {"domain": [-0.88,1.66], "nice": false, "zero": false}, "axis": {"values": [-0.5,0,0.5,1,1.5], "format": "~f"}}}}
  ]}
 ]},
 {"spacing": 111, "hconcat": [
  {"title": {"text": "bior5.5", "orient": "bottom", "anchor": "middle", "fontSize": 22, "color": "#111", "offset": 0}, "spacing": 37, "hconcat": [
   {"title": "Decomposition wavelet function psi", "width": 146, "height": 75, "data": {"name": "b55d"}, "mark": "line", "encoding": {"x": {"field": "x", "type": "quantitative", "title": null, "scale": {"domain": [0,11], "nice": false, "zero": false}, "axis": {"values": [0,2,4,6,8,10], "format": "~f"}}, "y": {"field": "y", "type": "quantitative", "title": null, "scale": {"domain": [-0.75,1.35], "nice": false, "zero": false}, "axis": {"values": [-0.5,0,0.5,1], "format": "~f"}}}},
   {"title": "Reconstruction wavelet function psi", "width": 145, "height": 75, "data": {"name": "b55r"}, "mark": "line", "encoding": {"x": {"field": "x", "type": "quantitative", "title": null, "scale": {"domain": [0,11], "nice": false, "zero": false}, "axis": {"values": [0,2,4,6,8,10], "format": "~f"}}, "y": {"field": "y", "type": "quantitative", "title": null, "scale": {"domain": [-1.3,2.0], "nice": false, "zero": false}, "axis": {"values": [-1,0,1,2], "format": "~f"}}}}
  ]},
  {"title": {"text": "bior6.8", "orient": "bottom", "anchor": "middle", "fontSize": 22, "color": "#111", "offset": 0}, "spacing": 42, "hconcat": [
   {"title": "Decomposition wavelet function psi", "width": 150, "height": 75, "data": {"name": "b68d"}, "mark": "line", "encoding": {"x": {"field": "x", "type": "quantitative", "title": null, "scale": {"domain": [0,17], "nice": false, "zero": false}, "axis": {"values": [0,5,10,15], "format": "~f"}}, "y": {"field": "y", "type": "quantitative", "title": null, "scale": {"domain": [-1.0,1.5], "nice": false, "zero": false}, "axis": {"values": [-1,0,1], "format": "~f"}}}},
   {"title": "Reconstruction wavelet function psi", "width": 144, "height": 75, "data": {"name": "b68r"}, "mark": "line", "encoding": {"x": {"field": "x", "type": "quantitative", "title": null, "scale": {"domain": [0,17], "nice": false, "zero": false}, "axis": {"values": [0,5,10,15], "format": "~f"}}, "y": {"field": "y", "type": "quantitative", "title": null, "scale": {"domain": [-0.85,1.35], "nice": false, "zero": false}, "axis": {"values": [-0.5,0,0.5,1], "format": "~f"}}}}
  ]}
 ]}
]
}
